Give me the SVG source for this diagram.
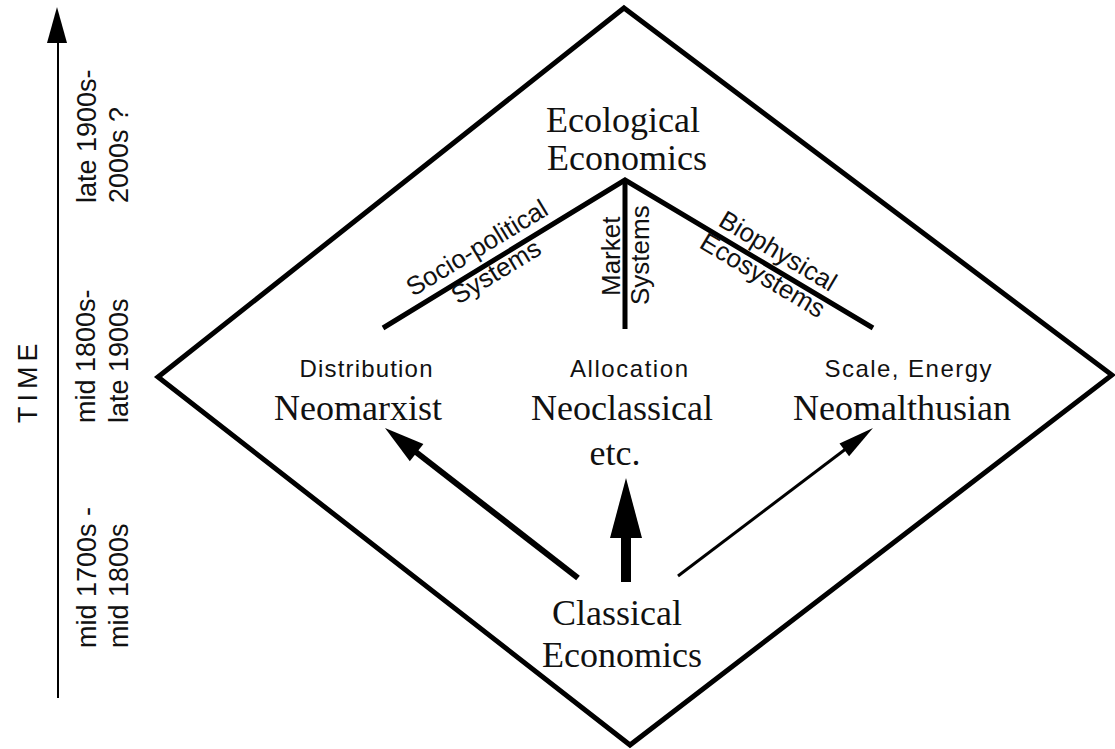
<svg xmlns="http://www.w3.org/2000/svg" width="1115" height="749" viewBox="0 0 1115 749">
<style>
.serif{font-family:"Liberation Serif","Times New Roman",serif;font-size:36px;fill:#111;text-anchor:middle}
.sans{font-family:"Liberation Sans",Arial,sans-serif;font-size:24px;fill:#111;text-anchor:middle}
.rot{font-family:"Liberation Sans",Arial,sans-serif;font-size:26px;fill:#111}
.time{font-family:"Liberation Sans",Arial,sans-serif;font-size:27px;fill:#111}
.edge{fill:none;stroke:#000;stroke-linejoin:miter}
.head{fill:#000;stroke:none}
</style>
<rect x="0" y="0" width="1115" height="749" fill="#fff"/>

<g id="frame">
  <polygon class="edge" points="624,8 1112,375 630,745 158,377" stroke-width="5"/>
</g>

<g id="timeline">
  <line x1="58" y1="40" x2="58" y2="698" stroke="#000" stroke-width="2"/>
  <polygon class="head" points="57,7 47,43 67,43"/>
  <text class="time" font-size="29" letter-spacing="5" transform="translate(37,423) rotate(-90)">TIME</text>
  <text class="time" transform="translate(96,203) rotate(-90)">late 1900s-</text>
  <text class="time" transform="translate(128,203) rotate(-90)">2000s ?</text>
  <text class="time" transform="translate(95,423) rotate(-90)">mid 1800s-</text>
  <text class="time" transform="translate(128,423) rotate(-90)">late 1900s</text>
  <text class="time" transform="translate(96,648) rotate(-90)">mid 1700s -</text>
  <text class="time" transform="translate(128,648) rotate(-90)">mid 1800s</text>
</g>

<g id="connectors">
  <polyline class="edge" points="383,328 625,180 873,328" stroke-width="5"/>
  <line x1="625" y1="180" x2="625" y2="329" stroke="#000" stroke-width="5"/>
  <line x1="578" y1="578" x2="412" y2="449" stroke="#000" stroke-width="6"/>
  <polygon class="head" points="385,428 423.4,443.9 409.8,461.3"/>
  <line x1="626" y1="582" x2="626" y2="530" stroke="#000" stroke-width="10"/>
  <polygon class="head" points="626,478 642,538 610,538"/>
  <line x1="678" y1="576" x2="847" y2="448" stroke="#000" stroke-width="3"/>
  <polygon class="head" points="873,428 849.1,456.2 839.5,443.4"/>
</g>

<g id="branch-labels">
  <text class="rot" transform="translate(413,297) rotate(-31.3)">Socio-political</text>
  <text class="rot" transform="translate(458,305) rotate(-31.3)">Systems</text>
  <text class="rot" transform="translate(620,296) rotate(-90)">Market</text>
  <text class="rot" transform="translate(649,305) rotate(-90)">Systems</text>
  <text class="rot" transform="translate(717,225) rotate(30.7)">Biophysical</text>
  <text class="rot" transform="translate(698,247) rotate(30.7)">Ecosystems</text>
</g>

<g id="node-ecological">
  <text class="serif" x="623" y="132">Ecological</text>
  <text class="serif" x="627" y="170">Economics</text>
</g>

<g id="node-neomarxist">
  <text class="sans" x="366" y="377" textLength="133">Distribution</text>
  <text class="serif" x="358" y="420">Neomarxist</text>
</g>

<g id="node-neoclassical">
  <text class="sans" x="629" y="377" textLength="118">Allocation</text>
  <text class="serif" x="622" y="420">Neoclassical</text>
  <text class="serif" x="615" y="465">etc.</text>
</g>

<g id="node-neomalthusian">
  <text class="sans" x="908" y="377" textLength="167">Scale, Energy</text>
  <text class="serif" x="902" y="420">Neomalthusian</text>
</g>

<g id="node-classical">
  <text class="serif" x="617" y="625">Classical</text>
  <text class="serif" x="622" y="667">Economics</text>
</g>
</svg>
